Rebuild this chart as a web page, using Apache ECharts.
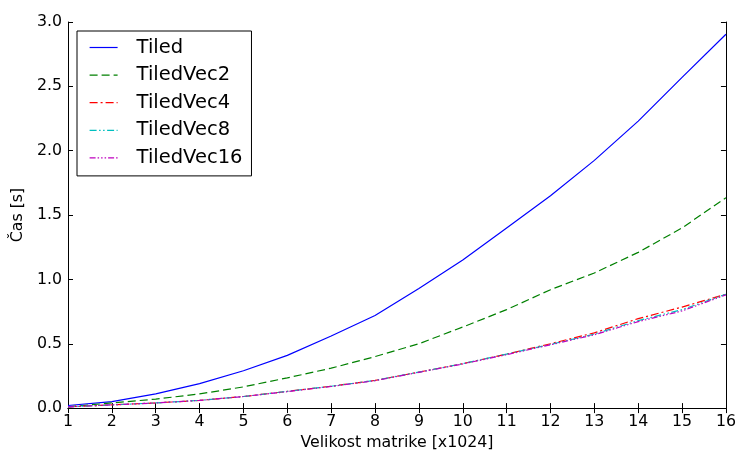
<!DOCTYPE html>
<html>
<head>
<meta charset="utf-8">
<script src="https://cdn.jsdelivr.net/npm/echarts@6/dist/echarts.min.js"></script>
<style>
html,body{margin:0;padding:0;background:#fff;}
#chart{width:739px;height:456px;}
</style>
</head>
<body>
<div id="chart"></div>
<script>
var sizes = [1,2,3,4,5,6,7,8,9,10,11,12,13,14,15,16];
var tiled    = [0.02,0.05,0.11,0.19,0.29,0.41,0.56,0.72,0.93,1.15,1.40,1.65,1.925,2.23,2.57,2.905];
var tiledVec2  = [0.01,0.04,0.07,0.11,0.165,0.235,0.31,0.40,0.50,0.63,0.765,0.92,1.05,1.21,1.40,1.635];
var tiledVec4  = [0.01,0.025,0.04,0.06,0.09,0.13,0.17,0.215,0.28,0.345,0.42,0.50,0.585,0.695,0.785,0.885];
var tiledVec8  = [0.01,0.025,0.04,0.06,0.09,0.13,0.17,0.215,0.28,0.345,0.42,0.495,0.575,0.68,0.765,0.885];
var tiledVec16 = [0.01,0.025,0.04,0.06,0.09,0.128,0.168,0.213,0.278,0.343,0.415,0.492,0.57,0.672,0.755,0.88];
var seriesNames = ['Tiled','TiledVec2','TiledVec4','TiledVec8','TiledVec16'];
var yTicks = ['0.0','0.5','1.0','1.5','2.0','2.5','3.0'];

var FONT = 'DejaVu Sans';
function pairs(arr){ return sizes.map(function(x,i){ return [x, arr[i]]; }); }
function mk(name, data, color, dash){
  return {
    name: name, type: 'line', data: pairs(data), showSymbol: false, symbol: 'none',
    xAxisIndex: 0, yAxisIndex: 0, animation: false,
    lineStyle: {color: color, width: 1.2, type: dash},
    itemStyle: {color: color}
  };
}
var chart = echarts.init(document.getElementById('chart'), null, {renderer: 'canvas'});
var axisLineStyle = {show: true, lineStyle: {color: '#000', width: 1}};
var tickStyle = {show: true, inside: true, length: 5, lineStyle: {color: '#000', width: 1}};
chart.setOption({
  animation: false,
  backgroundColor: '#fff',
  textStyle: {fontFamily: FONT},
  grid: {left: 68, right: 11, top: 22, bottom: 45, containLabel: false},
  legend: {
    orient: 'vertical', left: 77, top: 31,
    data: seriesNames,
    itemWidth: 28, itemHeight: 14, itemGap: 5.6,
    padding: [5.5, 9, 7, 12],
    borderColor: '#000', borderWidth: 1, borderRadius: 0,
    backgroundColor: '#fff',
    textStyle: {fontFamily: FONT, fontSize: 19.5, color: '#000', lineHeight: 22, padding: [0,0,0,14]},
    itemStyle: {opacity: 0},
    lineStyle: {width: 1.2}
  },
  xAxis: [{
    type: 'value', min: 1, max: 16, interval: 1, position: 'bottom',
    name: 'Velikost matrike [x1024]', nameLocation: 'middle', nameGap: 21,
    nameTextStyle: {fontFamily: FONT, fontSize: 15.8, color: '#000'},
    axisLine: axisLineStyle, axisTick: tickStyle,
    axisLabel: {fontFamily: FONT, fontSize: 15.8, color: '#000', margin: 6},
    splitLine: {show: false}
  },{
    type: 'value', min: 1, max: 16, interval: 1, position: 'top',
    axisLine: axisLineStyle, axisTick: tickStyle, axisLabel: {show: false}, splitLine: {show: false}
  }],
  yAxis: [{
    type: 'value', min: 0, max: 3, interval: 0.5, position: 'left',
    name: 'Čas [s]', nameLocation: 'middle', nameGap: 40, nameRotate: 90,
    nameTextStyle: {fontFamily: FONT, fontSize: 15.8, color: '#000'},
    axisLine: axisLineStyle, axisTick: tickStyle,
    axisLabel: {fontFamily: FONT, fontSize: 15.8, color: '#000', margin: 6,
      formatter: function(v){ return yTicks[Math.round(v/0.5)]; }},
    splitLine: {show: false}
  },{
    type: 'value', min: 0, max: 3, interval: 0.5, position: 'right',
    axisLine: axisLineStyle, axisTick: tickStyle, axisLabel: {show: false}, splitLine: {show: false}
  }],
  series: [
    mk('Tiled', tiled, '#0000ff', 'solid'),
    mk('TiledVec2', tiledVec2, '#008000', [8,4]),
    mk('TiledVec4', tiledVec4, '#ff0000', [8,3,2,3]),
    mk('TiledVec8', tiledVec8, '#00bfbf', [7,2.5,1.5,2.5,1.5,2.5]),
    mk('TiledVec16', tiledVec16, '#bf00bf', [6,2,1.5,2,1.5,2,1.5,2])
  ]
});
</script>
</body>
</html>
